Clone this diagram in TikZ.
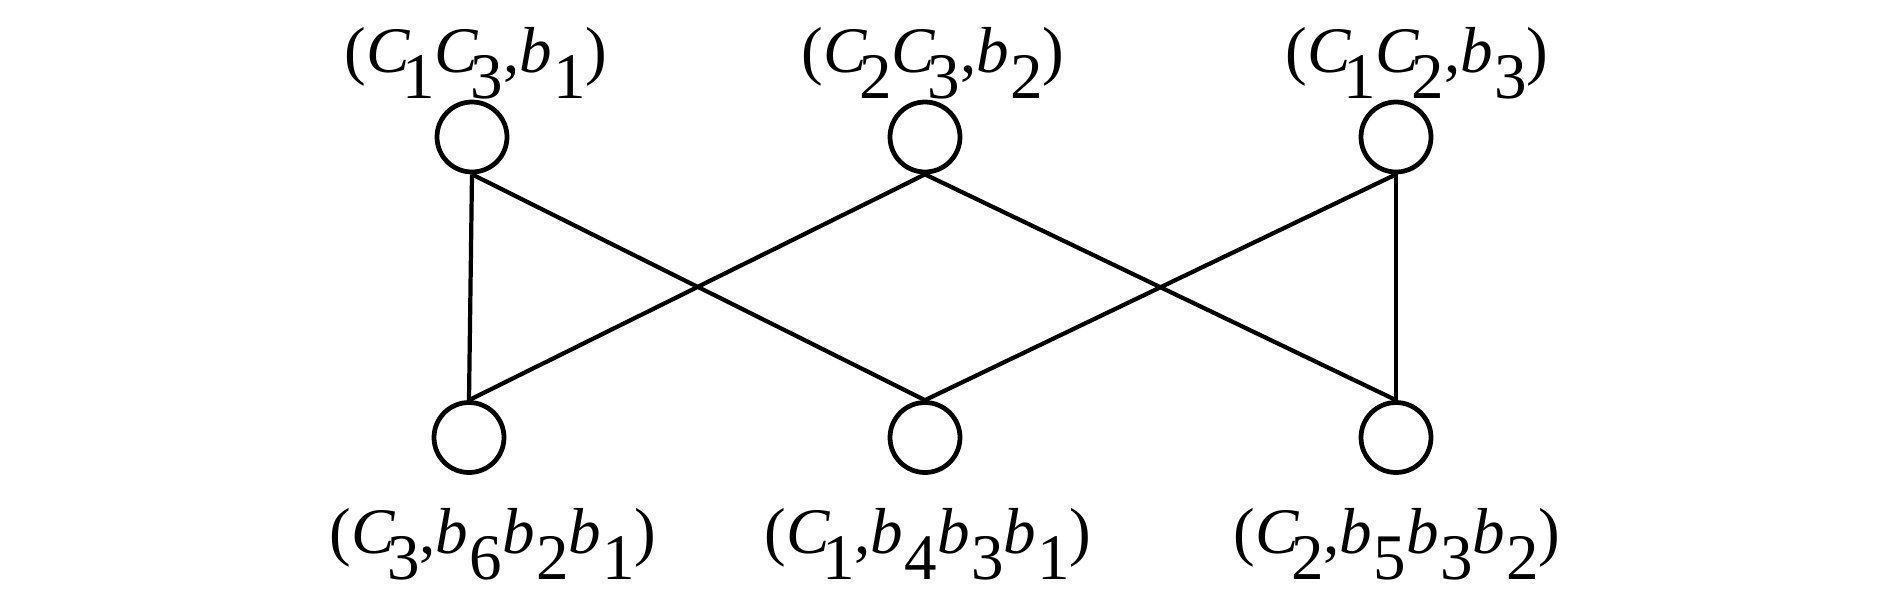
\documentclass[tikz,border=0pt]{standalone}
\usepackage{fontspec}
\setmainfont{Liberation Serif}
\usepackage{tikz}
\usetikzlibrary{positioning}
\newcommand{\lo}[1]{\raisebox{-0.4em}{#1}}
\newcommand{\Cn}[1]{\textit{C}\kern-0.12em\lo{#1}}
\newcommand{\bn}[1]{\textit{b}\kern0.02em\lo{#1}}

\begin{document}
\begin{tikzpicture}[
  vtx/.style={draw, circle, line width=1.35pt, minimum size=0.70cm, inner sep=0pt},
  lab/.style={anchor=base, font=\fontsize{18.5}{21}\selectfont, inner sep=0pt},
  edge/.style={line width=1.2pt},
]
  \useasboundingbox (0,0) rectangle (18.9,-5.91);

  \node[vtx] (t1) at (4.72,-1.37) {};
  \node[vtx] (t2) at (9.25,-1.37) {};
  \node[vtx] (t3) at (13.96,-1.37) {};
  \node[vtx] (b1) at (4.69,-4.375) {};
  \node[vtx] (b2) at (9.25,-4.375) {};
  \node[vtx] (b3) at (13.96,-4.375) {};

  \draw[edge] (t1.south) -- (b1.north);
  \draw[edge] (t1.south) -- (b2.north);
  \draw[edge] (t2.south) -- (b1.north);
  \draw[edge] (t2.south) -- (b3.north);
  \draw[edge] (t3.south) -- (b2.north);
  \draw[edge] (t3.south) -- (b3.north);

  \node[lab] (lt1) at (4.76,-0.72) {(\Cn{1}\Cn{3},\bn{1})};
  \node[lab] (lt2) at (9.33,-0.72) {(\Cn{2}\Cn{3},\bn{2})};
  \node[lab] (lt3) at (14.17,-0.72) {(\Cn{1}\Cn{2},\bn{3})};
  \node[lab] (lb1) at (4.93,-5.53) {(\Cn{3},\bn{6}\bn{2}\bn{1})};
  \node[lab] (lb2) at (9.28,-5.53) {(\Cn{1},\bn{4}\bn{3}\bn{1})};
  \node[lab] (lb3) at (13.97,-5.53) {(\Cn{2},\bn{5}\bn{3}\bn{2})};
\end{tikzpicture}
\end{document}
